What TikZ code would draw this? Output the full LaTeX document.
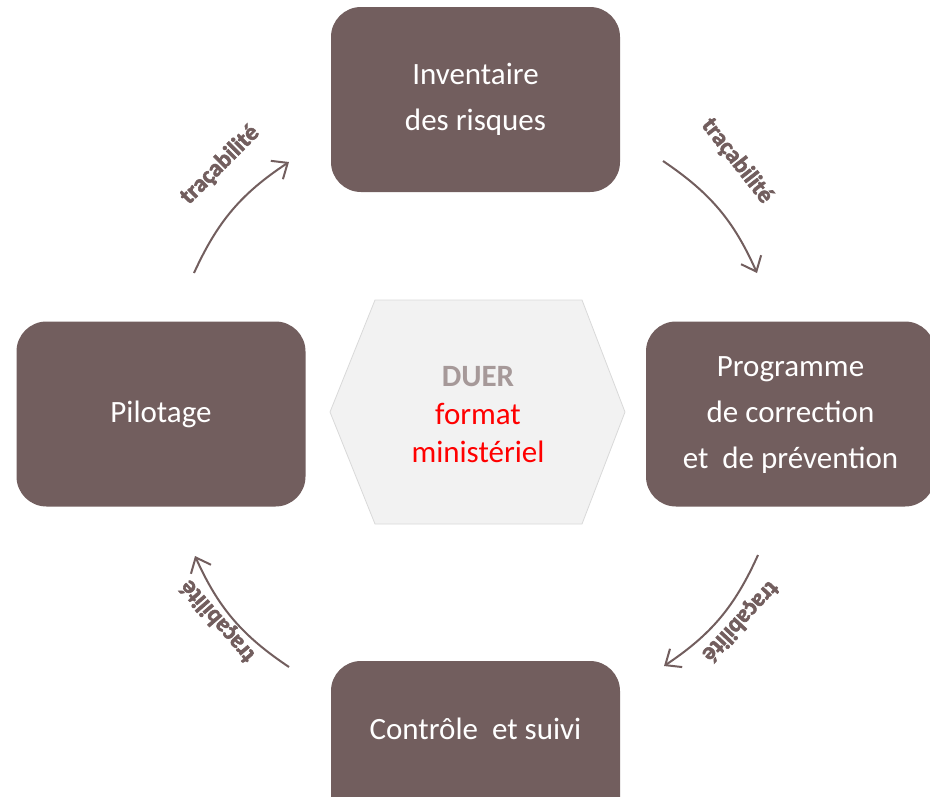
\documentclass[tikz,border=0pt]{standalone}
\usepackage{fontspec}
\setmainfont{Carlito}
\newfontfamily\tracfont{Carlito Bold}[FakeBold=2.5]
\usetikzlibrary{arrows.meta}
\definecolor{boxbrown}{HTML}{725E5E}
\definecolor{duergray}{HTML}{A69999}
\definecolor{hexfill}{HTML}{F2F2F2}
\definecolor{hexline}{HTML}{D9D9D9}
\tikzset{
  stagebox/.style={draw=none, fill=boxbrown, rounded corners=30pt, minimum width=289pt, minimum height=185pt,
    text=white, align=center, font=\fontsize{31}{46}\selectfont, inner sep=0pt},
  stagetext/.style={text=white, align=center, font=\fontsize{31}{46}\selectfont, inner sep=0pt},
  cyclearrow/.style={draw=boxbrown, line width=2pt, bend left=16, -{Straight Barb[length=13pt,width=22pt,line width=2pt]}},
  traclabel/.style={text=boxbrown, font=\fontsize{24}{26}\tracfont, inner sep=0pt}
}
\begin{document}
\begin{tikzpicture}[x=1pt,y=-1pt]
\useasboundingbox (0,0) rectangle (930,796);
\clip (0,0) rectangle (930,796);
% central hexagon
\filldraw[fill=hexfill, draw=hexline, line width=0.8pt]
  (330,412) -- (375,300) -- (582,300) -- (625,412) -- (582,524) -- (375,524) -- cycle;
\node[align=center, inner sep=0pt, font=\fontsize{31}{38}\selectfont] (duer) at (478,415)
  {\textcolor{duergray}{\bfseries DUER}\\ \textcolor{red}{format}\\ \textcolor{red}{ministériel}};
% boxes
\node[stagebox] (inv) at (475.5,99.5) {Inventaire\\des risques};
\node[stagebox] (pil) at (161,414) {Pilotage};
\node[stagebox] (prog) at (790.5,414) {};
\node[stagetext] (progtext) at ([yshift=-1pt]prog.center) {Programme\\de correction\\et\ \ de prévention};
\node[stagebox] (ctrl) at (475.5,753.5) {};
\node[stagetext] (ctrltext) at ([yshift=25pt]ctrl.center) {Contrôle\ \ et suivi};
% arrows
\coordinate (a1s) at (194,273); \coordinate (a1e) at (289,162);
\coordinate (a2s) at (663,161); \coordinate (a2e) at (757,273);
\coordinate (a3s) at (758,555); \coordinate (a3e) at (664,666);
\coordinate (a4s) at (289,667); \coordinate (a4e) at (195,556);
\draw[cyclearrow] (a1s) to (a1e);
\draw[cyclearrow] (a2s) to (a2e);
\draw[cyclearrow] (a3s) to (a3e);
\draw[cyclearrow] (a4s) to (a4e);
% labels
\node[traclabel, rotate=45] (t1) at (220,165) {traçabilité};
\node[traclabel, rotate=-52] (t2) at (737,161) {traçabilité};
\node[traclabel, rotate=-133] (t3) at (740,621) {traçabilité};
\node[traclabel, rotate=131] (t4) at (218,621) {traçabilité};
\end{tikzpicture}
\end{document}
